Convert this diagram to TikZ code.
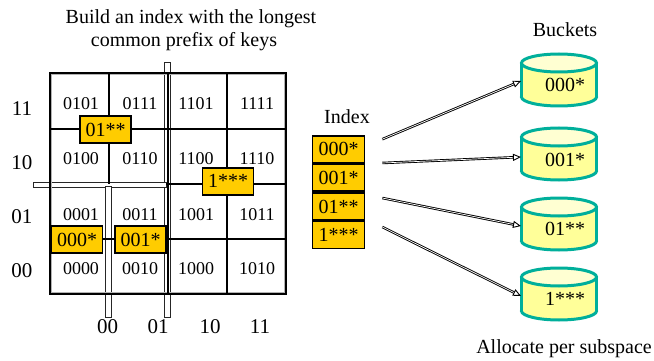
\documentclass[tikz,border=0pt]{standalone}
\usepackage{fontspec}
\setmainfont{Liberation Serif}
\usetikzlibrary{arrows.meta}
\definecolor{gold}{RGB}{255,204,0}
\definecolor{tealb}{RGB}{0,175,155}
\definecolor{bodyY}{RGB}{255,255,153}
\definecolor{topY}{RGB}{255,255,210}
\begin{document}
\begin{tikzpicture}[x=1pt,y=-1pt,
  cellt/.style={font=\fontsize{18}{20}\selectfont, inner sep=0pt},
  axt/.style={font=\fontsize{21}{24}\selectfont, inner sep=0pt},
  lbl/.style={font=\fontsize{20}{24}\selectfont, inner sep=0pt},
  tag/.style={draw=black, line width=1.8pt, fill=gold, font=\fontsize{20}{22}\selectfont, minimum width=51pt, minimum height=27pt, inner sep=0pt},
  idx/.style={draw=black, line width=1.6pt, fill=gold, font=\fontsize{20}{22}\selectfont, minimum width=52pt, minimum height=27pt, inner sep=0pt},
  gridl/.style={line width=1.1pt},
  barbox/.style={draw=black!85, line width=0.7pt, fill=white},
  bucketline/.style={draw=tealb, line width=3pt},
  arr/.style={double=white, double distance=0.7pt, line width=0.9pt, -{Triangle[open,length=8pt,width=7pt]}}
]
\useasboundingbox (0,0) rectangle (654,361);

% titles
\node[lbl, anchor=base] (t1) at (191,24) {Build an index with the longest};
\node[lbl, anchor=base] (t2) at (184,47) {common prefix of keys};

% split bars
\draw[barbox] (164,62) rectangle (170,317);
\draw[barbox] (33,182) rectangle (166,187);
\draw[barbox] (105,186) rectangle (111,317);

% grid
\draw[gray!60, line width=1.2pt] (51.8,74.8) rectangle (284.5,292.5);
\draw[gridl] (50,73) rectangle (286,294);
\draw[gridl] (109,73) -- (109,184);
\draw[gridl] (168,73) -- (168,294);
\draw[gridl] (227,73) -- (227,294);
\draw[gridl] (50,129) -- (286,129);
\draw[gridl] (166,184) -- (286,184);
\draw[gridl] (50,239) -- (286,239);

% cell labels
\node[cellt] (c0101) at (81,103.5) {0101};
\node[cellt] (c0111) at (140,103.5) {0111};
\node[cellt] (c1101) at (196,103.5) {1101};
\node[cellt] (c1111) at (257,103.5) {1111};
\node[cellt] (c0100) at (81,159) {0100};
\node[cellt] (c0110) at (140,159) {0110};
\node[cellt] (c1100) at (196,159) {1100};
\node[cellt] (c1110) at (257,159) {1110};
\node[cellt] (c0001) at (81,214.5) {0001};
\node[cellt] (c0011) at (140,214.5) {0011};
\node[cellt] (c1001) at (196,214.5) {1001};
\node[cellt] (c1011) at (257,214.5) {1011};
\node[cellt] (c0000) at (81,269) {0000};
\node[cellt] (c0010) at (140,269) {0010};
\node[cellt] (c1000) at (196,269) {1000};
\node[cellt] (c1010) at (257,269) {1010};

% axis labels
\node[axt] (r11) at (22,109) {11};
\node[axt] (r10) at (22,163) {10};
\node[axt] (r01) at (22,217) {01};
\node[axt] (r00) at (22,271) {00};
\node[axt] (k00) at (107.5,327) {00};
\node[axt] (k01) at (158,327) {01};
\node[axt] (k10) at (210,327) {10};
\node[axt] (k11) at (260,327) {11};

% prefix tags in grid
\node[tag] (g01) at (105.7,129.5) {01**};
\node[tag] (g1) at (228,181.3) {1***};
\node[tag] (g000) at (77,239.5) {000*};
\node[tag] (g001) at (140.7,239.5) {001*};

% index
\node[lbl] (ix) at (347,117) {Index};
\node[idx] (i1) at (338.5,149.2) {000*};
\node[idx] (i2) at (338.5,177.7) {001*};
\node[idx] (i3) at (338.5,206.5) {01**};
\node[idx] (i4) at (338.5,235) {1***};

% buckets
\node[lbl] (bk) at (565,30) {Buckets};
\foreach \y in {53,127,197,267}{
  \filldraw[bucketline, fill=bodyY] (559,\y+44) ellipse (37.5 and 9);
  \fill[bodyY] (521.5,\y+10) rectangle (596.5,\y+44);
  \draw[bucketline] (521.5,\y+10) -- (521.5,\y+44) (596.5,\y+10) -- (596.5,\y+44);
  \filldraw[bucketline, fill=topY] (559,\y+10) ellipse (37.5 and 9);
}
\node[lbl] (b1) at (565,85) {000*};
\node[lbl] (b2) at (565,160) {001*};
\node[lbl] (b3) at (565,228.5) {01**};
\node[lbl] (b4) at (565,298.5) {1***};
\coordinate (e1) at (521,81);
\coordinate (e2) at (521,157);
\coordinate (e3) at (521,226);
\coordinate (e4) at (521,296);

\draw[arr] ([shift={(17,-10)}]i1.east) -- (e1);
\draw[arr] ([shift={(17,-14.7)}]i2.east) -- (e2);
\draw[arr] ([shift={(17,-8.5)}]i3.east) -- (e3);
\draw[arr] ([shift={(17,-8)}]i4.east) -- (e4);

\node[lbl, anchor=base] (al) at (564,353) {Allocate per subspace};
\end{tikzpicture}
\end{document}
